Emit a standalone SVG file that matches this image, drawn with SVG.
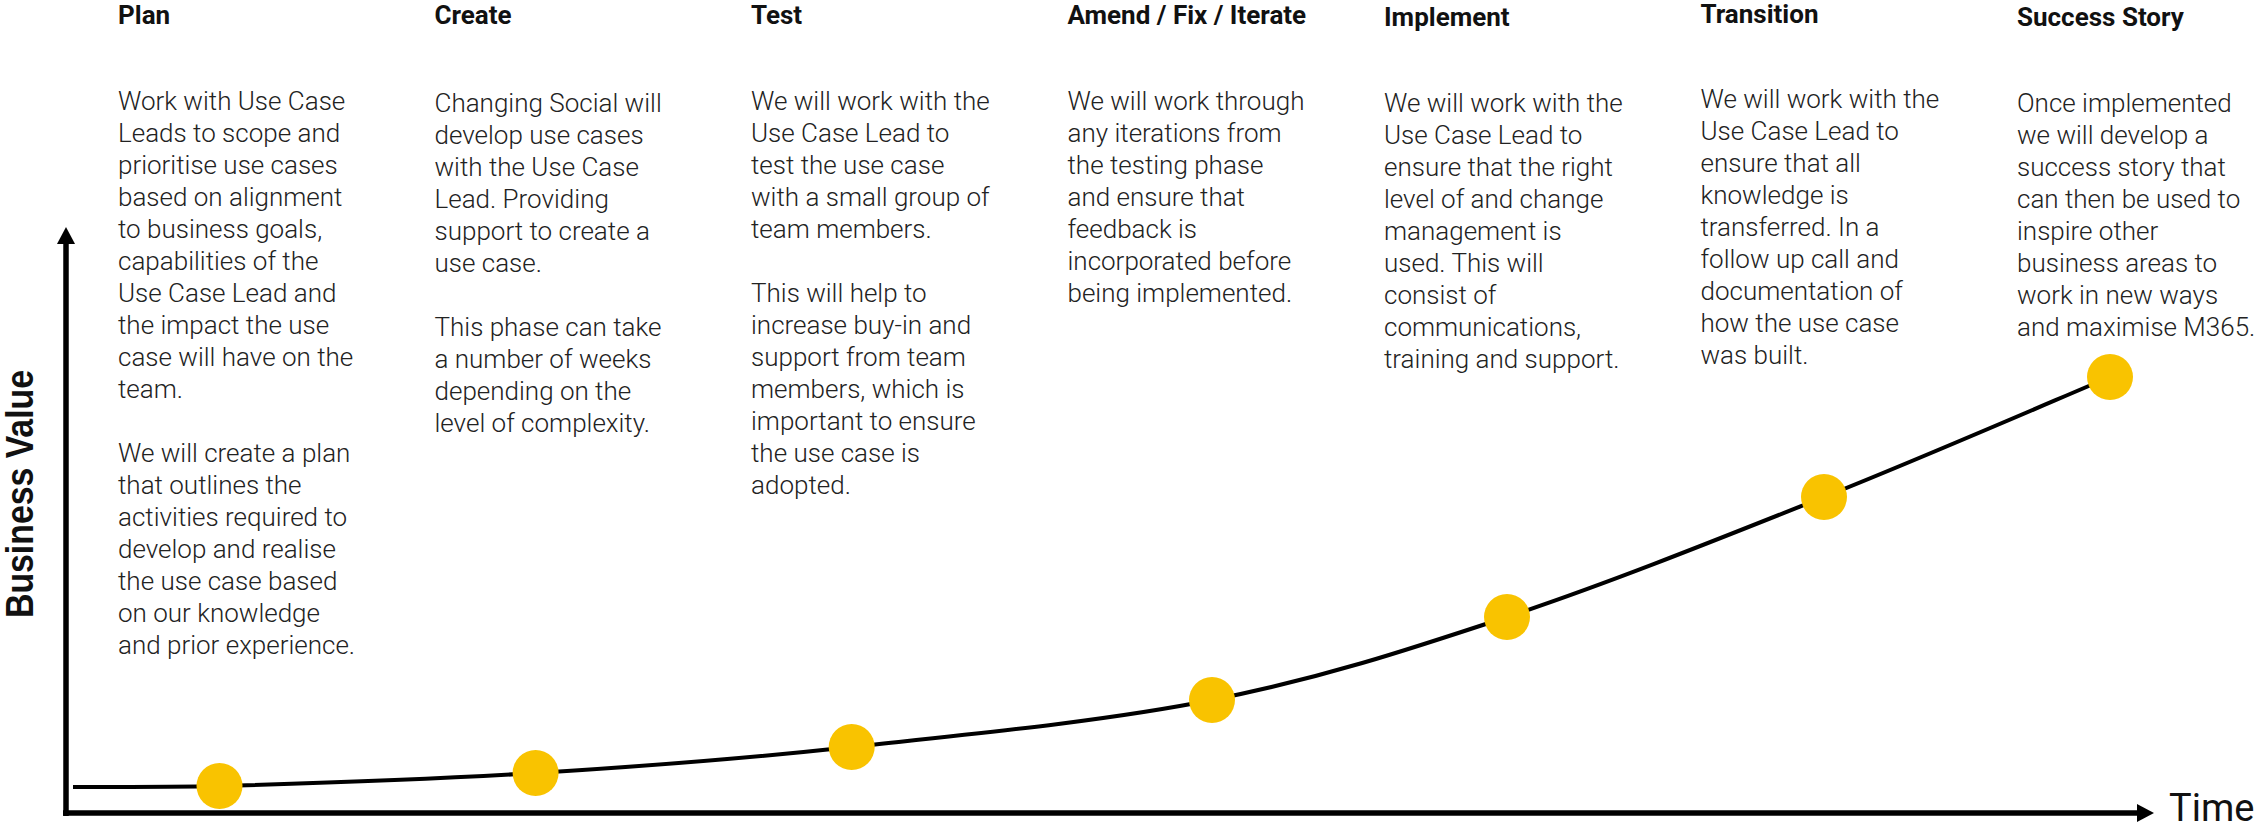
<svg xmlns="http://www.w3.org/2000/svg" width="2262" height="827" viewBox="0 0 2262 827">
<style>
.hd{font-family:Roboto,"Liberation Sans",sans-serif;font-weight:700;font-size:26px;fill:#111}
.bd{font-family:Roboto,"Liberation Sans",sans-serif;font-weight:300;font-size:26px;fill:#222}
.dot{fill:#F9C300}
.axis{fill:none;stroke:#000;stroke-width:5.5}
.curve{fill:none;stroke:#000;stroke-width:4}
.lbl{font-family:"Liberation Sans",Arial,sans-serif;font-weight:700;font-size:39px;fill:#111}
.tm{font-family:Roboto,"Liberation Sans",sans-serif;font-weight:400;font-size:38px;fill:#111}
</style>
<defs>
<marker id="arr" viewBox="0 0 17 18" refX="0" refY="9" markerWidth="17" markerHeight="18" markerUnits="userSpaceOnUse" orient="auto">
<path d="M0,0 L17,9 L0,18 Z" fill="#000"/>
</marker>
</defs>
<rect width="2262" height="827" fill="#fff"/>

<g id="connectors">
<path class="axis" d="M66,816 V244" marker-end="url(#arr)"/>
<path class="axis" d="M63,813 H2137" marker-end="url(#arr)"/>
<path class="curve" d="M73,787 C110,787 180,787.1 219.5,786 C296.6,783.8 430.2,779.5 535.6,773 C641,766.5 739,759.2 851.7,747 C964.4,734.8 1102.8,721.7 1212,700 C1321.2,678.3 1405,650.8 1507,617 C1609,583.2 1723.5,537 1824,497 C1924.5,457 2062.3,397 2110,377"/>
</g>

<g id="axis-labels">
<text class="lbl" transform="translate(33,618) rotate(-90)" textLength="248" lengthAdjust="spacingAndGlyphs">Business Value</text>
<text class="tm" x="2169" y="821">Time</text>
</g>

<g id="plan">
<text class="hd" x="118" y="24">Plan</text>
<text class="bd">
<tspan x="118" y="110">Work with Use Case</tspan>
<tspan x="118" y="142">Leads to scope and</tspan>
<tspan x="118" y="174">prioritise use cases</tspan>
<tspan x="118" y="206">based on alignment</tspan>
<tspan x="118" y="238">to business goals,</tspan>
<tspan x="118" y="270">capabilities of the</tspan>
<tspan x="118" y="302">Use Case Lead and</tspan>
<tspan x="118" y="334">the impact the use</tspan>
<tspan x="118" y="366">case will have on the</tspan>
<tspan x="118" y="398">team.</tspan>
<tspan x="118" y="462">We will create a plan</tspan>
<tspan x="118" y="494">that outlines the</tspan>
<tspan x="118" y="526">activities required to</tspan>
<tspan x="118" y="558">develop and realise</tspan>
<tspan x="118" y="590">the use case based</tspan>
<tspan x="118" y="622">on our knowledge</tspan>
<tspan x="118" y="654">and prior experience.</tspan>
</text>
<circle class="dot" cx="219.5" cy="786" r="23"/>
</g>

<g id="create">
<text class="hd" x="434.5" y="24">Create</text>
<text class="bd">
<tspan x="434.5" y="112">Changing Social will</tspan>
<tspan x="434.5" y="144">develop use cases</tspan>
<tspan x="434.5" y="176">with the Use Case</tspan>
<tspan x="434.5" y="208">Lead. Providing</tspan>
<tspan x="434.5" y="240">support to create a</tspan>
<tspan x="434.5" y="272">use case.</tspan>
<tspan x="434.5" y="336">This phase can take</tspan>
<tspan x="434.5" y="368">a number of weeks</tspan>
<tspan x="434.5" y="400">depending on the</tspan>
<tspan x="434.5" y="432">level of complexity.</tspan>
</text>
<circle class="dot" cx="535.6" cy="773" r="23"/>
</g>

<g id="test">
<text class="hd" x="751" y="24">Test</text>
<text class="bd">
<tspan x="751" y="110">We will work with the</tspan>
<tspan x="751" y="142">Use Case Lead to</tspan>
<tspan x="751" y="174">test the use case</tspan>
<tspan x="751" y="206">with a small group of</tspan>
<tspan x="751" y="238">team members.</tspan>
<tspan x="751" y="302">This will help to</tspan>
<tspan x="751" y="334">increase buy-in and</tspan>
<tspan x="751" y="366">support from team</tspan>
<tspan x="751" y="398">members, which is</tspan>
<tspan x="751" y="430">important to ensure</tspan>
<tspan x="751" y="462">the use case is</tspan>
<tspan x="751" y="494">adopted.</tspan>
</text>
<circle class="dot" cx="851.7" cy="747" r="23"/>
</g>

<g id="amend">
<text class="hd" x="1067.5" y="24">Amend / Fix / Iterate</text>
<text class="bd">
<tspan x="1067.5" y="110">We will work through</tspan>
<tspan x="1067.5" y="142">any iterations from</tspan>
<tspan x="1067.5" y="174">the testing phase</tspan>
<tspan x="1067.5" y="206">and ensure that</tspan>
<tspan x="1067.5" y="238">feedback is</tspan>
<tspan x="1067.5" y="270">incorporated before</tspan>
<tspan x="1067.5" y="302">being implemented.</tspan>
</text>
<circle class="dot" cx="1212" cy="700" r="23"/>
</g>

<g id="implement">
<text class="hd" x="1384" y="26">Implement</text>
<text class="bd">
<tspan x="1384" y="112">We will work with the</tspan>
<tspan x="1384" y="144">Use Case Lead to</tspan>
<tspan x="1384" y="176">ensure that the right</tspan>
<tspan x="1384" y="208">level of and change</tspan>
<tspan x="1384" y="240">management is</tspan>
<tspan x="1384" y="272">used. This will</tspan>
<tspan x="1384" y="304">consist of</tspan>
<tspan x="1384" y="336">communications,</tspan>
<tspan x="1384" y="368">training and support.</tspan>
</text>
<circle class="dot" cx="1507" cy="617" r="23"/>
</g>

<g id="transition">
<text class="hd" x="1700.5" y="23">Transition</text>
<text class="bd">
<tspan x="1700.5" y="108">We will work with the</tspan>
<tspan x="1700.5" y="140">Use Case Lead to</tspan>
<tspan x="1700.5" y="172">ensure that all</tspan>
<tspan x="1700.5" y="204">knowledge is</tspan>
<tspan x="1700.5" y="236">transferred. In a</tspan>
<tspan x="1700.5" y="268">follow up call and</tspan>
<tspan x="1700.5" y="300">documentation of</tspan>
<tspan x="1700.5" y="332">how the use case</tspan>
<tspan x="1700.5" y="364">was built.</tspan>
</text>
<circle class="dot" cx="1824" cy="497" r="23"/>
</g>

<g id="success-story">
<text class="hd" x="2017" y="26">Success Story</text>
<text class="bd">
<tspan x="2017" y="112">Once implemented</tspan>
<tspan x="2017" y="144">we will develop a</tspan>
<tspan x="2017" y="176">success story that</tspan>
<tspan x="2017" y="208">can then be used to</tspan>
<tspan x="2017" y="240">inspire other</tspan>
<tspan x="2017" y="272">business areas to</tspan>
<tspan x="2017" y="304">work in new ways</tspan>
<tspan x="2017" y="336">and maximise M365.</tspan>
</text>
<circle class="dot" cx="2110" cy="377" r="23"/>
</g>
</svg>
